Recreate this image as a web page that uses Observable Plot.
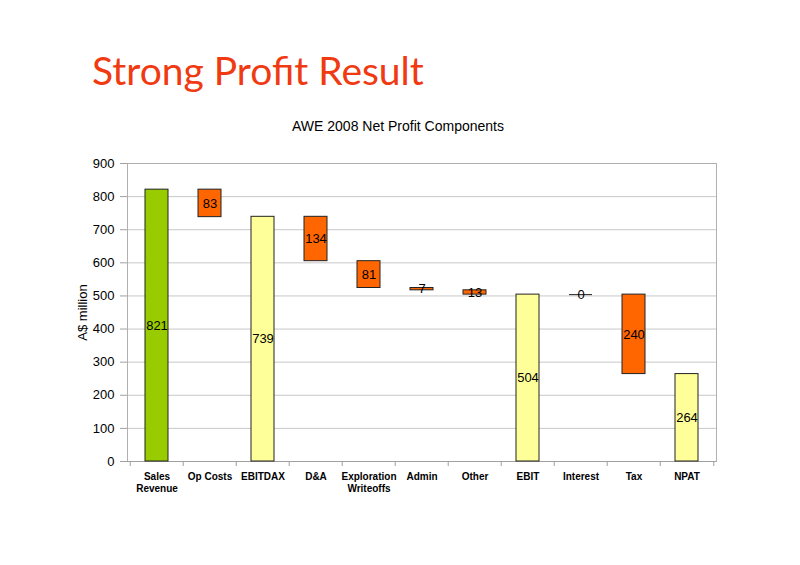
<!DOCTYPE html>
<html>
<head>
<meta charset="utf-8">
<script src="https://cdn.jsdelivr.net/npm/d3@7"></script>
<script src="https://cdn.jsdelivr.net/npm/@observablehq/plot@0.6"></script>
<style>
  body { margin: 0; background: #fff; }
  #page { width: 800px; height: 565px; position: relative; overflow: hidden; }
  #header { position: relative; width: 800px; height: 140px; }
  #title { position: absolute; left: 92px; top: 51px; font-family: Lato, "Open Sans", sans-serif; font-size: 39px; line-height: 1; color: #f03a12; white-space: nowrap; }
  #subtitle { position: absolute; left: 0; width: 796px; top: 119px; text-align: center; font-family: "Liberation Sans", Arial, sans-serif; font-size: 14px; line-height: 1; color: #000; }
</style>
</head>
<body>
<div id="page">
  <div id="header">
    <div id="title">Strong Profit Result</div>
    <div id="subtitle">AWE 2008 Net Profit Components</div>
  </div>
  <div id="chart"></div>
</div>
<script>
const categories = ["Sales Revenue", "Op Costs", "EBITDAX", "D&A", "Exploration Writeoffs", "Admin", "Other", "EBIT", "Interest", "Tax", "NPAT"];
const tickLabels = ["Sales\nRevenue", "Op Costs", "EBITDAX", "D&A", "Exploration\nWriteoffs", "Admin", "Other", "EBIT", "Interest", "Tax", "NPAT"];
const bases = [0, 738, 0, 605, 524, 517, 504, 0, 504, 264, 0];
const values = [821, 83, 739, 134, 81, 7, 13, 504, 0, 240, 264];
const kinds = ["revenue", "cost", "subtotal", "cost", "cost", "cost", "cost", "subtotal", "cost", "cost", "subtotal"];
const yTicks = [0, 100, 200, 300, 400, 500, 600, 700, 800, 900];

const data = categories.map((c, i) => ({
  category: c,
  base: bases[i],
  top: bases[i] + values[i],
  value: values[i],
  kind: kinds[i]
}));

const W = 800, H = 425;
const mL = 127, mR = 84, mT = 23, mB = 104;
const step = (W - mL - mR) / categories.length;
const labelOf = new Map(categories.map((c, i) => [c, tickLabels[i]]));

const chart = Plot.plot({
  width: W,
  height: H,
  marginLeft: mL,
  marginRight: mR,
  marginTop: mT,
  marginBottom: mB,
  style: { fontFamily: "'Liberation Sans', Arial, sans-serif", fontSize: "13px", color: "#000", background: "#fff" },
  x: { domain: categories, paddingInner: 0.57, paddingOuter: 0.285, label: null },
  y: { domain: [0, 900], label: null },
  color: {
    domain: ["revenue", "cost", "subtotal"],
    range: ["#99cc00", "#ff6600", "#ffff99"]
  },
  marks: [
    Plot.gridY(yTicks, { stroke: "#c8c8c8", strokeOpacity: 1 }),
    Plot.frame({ stroke: "#b0b0b0" }),
    Plot.axisY({ ticks: yTicks, tickSize: 7, tickPadding: 6, stroke: "#a0a0a0", fontSize: 13, label: "A$ million", labelAnchor: "center", labelOffset: 50, labelArrow: "none" }),
    Plot.axisX({ ticks: categories, tickSize: 5, dx: -step / 2, tickFormat: () => "", stroke: "#a0a0a0" }),
    Plot.axisX({ ticks: categories.slice(-1), tickSize: 5, dx: step / 2, tickFormat: () => "", stroke: "#a0a0a0" }),
    Plot.axisX({ ticks: categories, tickSize: 0, tickPadding: 10, tickFormat: d => labelOf.get(d), fontSize: 10, fontWeight: "bold", lineHeight: 1.2, label: null }),
    Plot.ruleY([0], { stroke: "#a0a0a0" }),
    Plot.rectY(data, { x: "category", y1: "base", y2: "top", fill: "kind", stroke: "#222", strokeWidth: 1 }),
    Plot.tickY(data, { filter: d => d.value === 0, x: "category", y: "top", stroke: "#222", strokeWidth: 1 }),
    Plot.text(data, { x: "category", y: d => (d.base + d.top) / 2, text: d => String(d.value), fill: "#000", fontSize: 13 })
  ]
});
document.getElementById("chart").appendChild(chart);
</script>
</body>
</html>
